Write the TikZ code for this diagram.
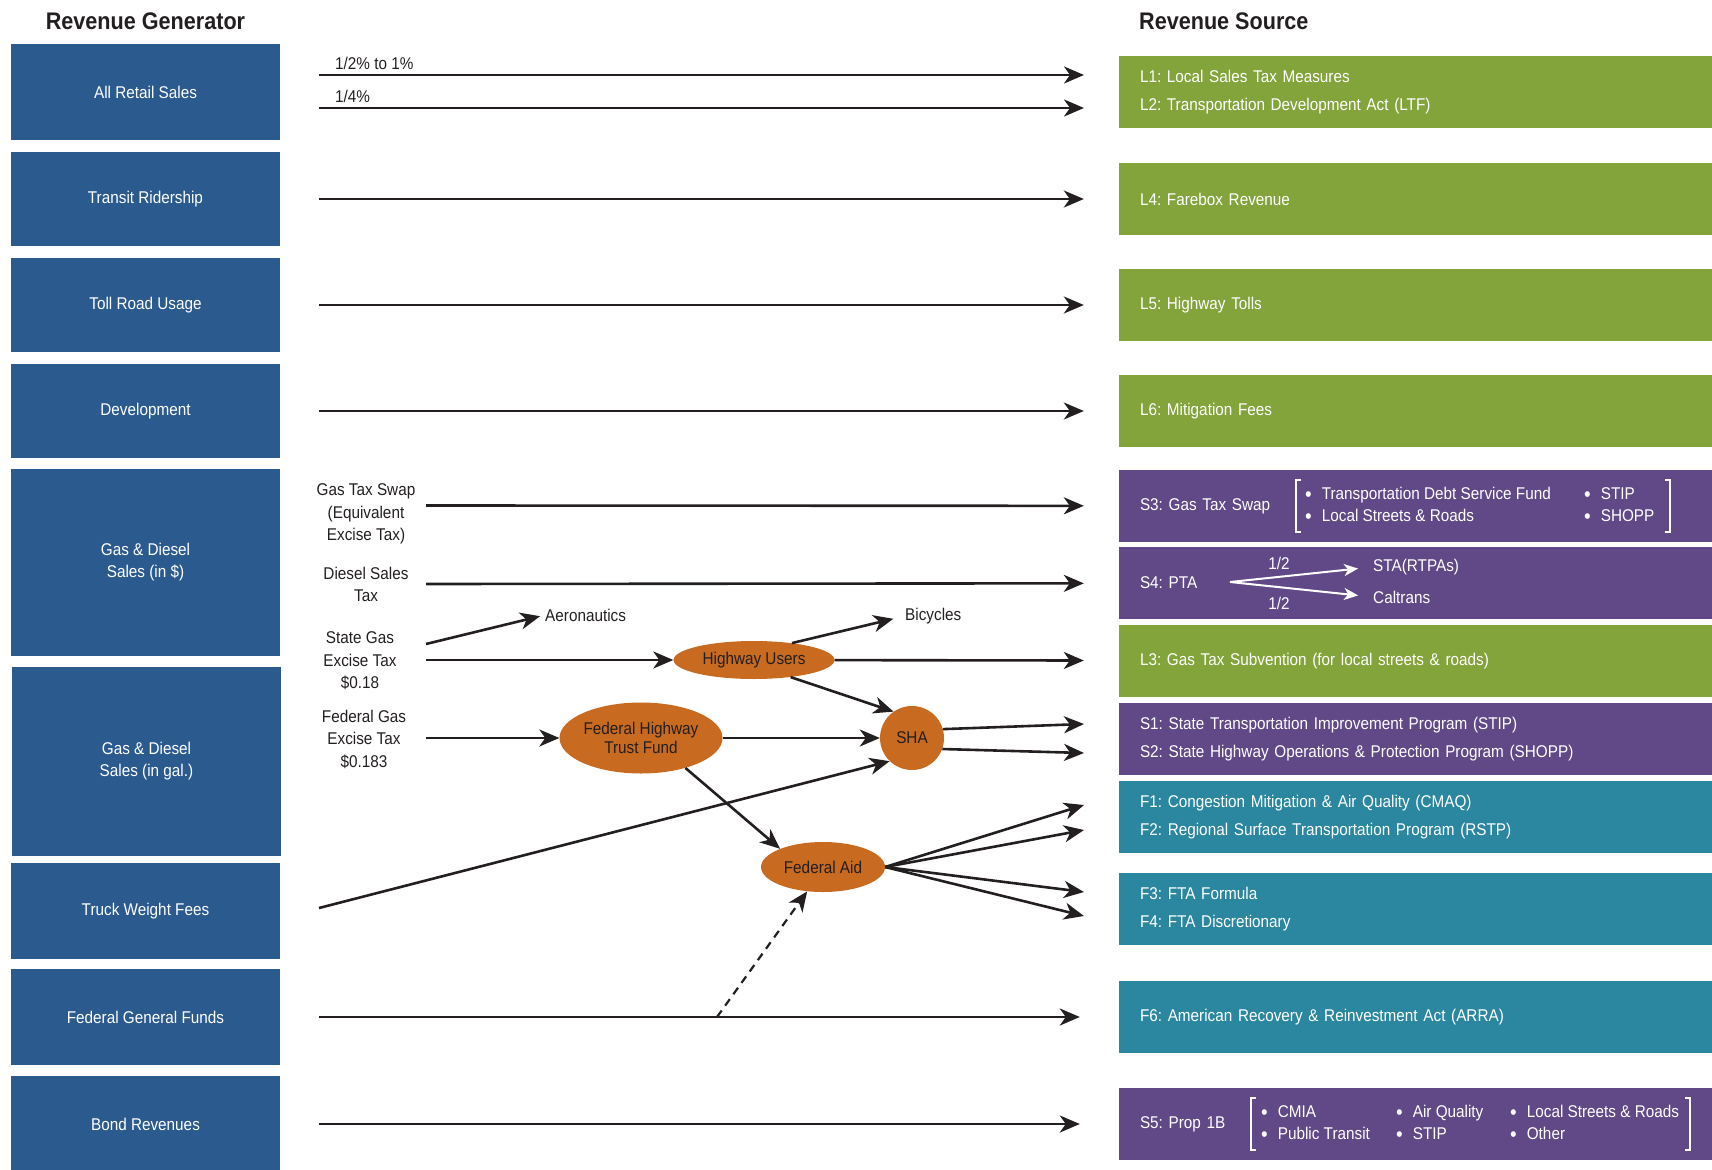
\documentclass[tikz,border=0pt]{standalone}
\usepackage{fontspec}
\setmainfont{Liberation Sans}[FakeStretch=0.9]
\usetikzlibrary{arrows.meta,shapes.geometric}
\definecolor{genblue}{RGB}{43,90,143}
\definecolor{locgreen}{RGB}{131,163,59}
\definecolor{statepurple}{RGB}{97,72,134}
\definecolor{fedteal}{RGB}{42,135,159}
\definecolor{fundorange}{RGB}{200,106,31}
\definecolor{ink}{RGB}{35,31,32}
\newcommand{\bul}{\raisebox{-2.2pt}{\fontsize{21}{22}\selectfont\textbullet}\hspace{10pt}}
\frenchspacing

\begin{document}
\begin{tikzpicture}[x=1pt,y=-1pt,
  gen/.style={fill=genblue,text=white,minimum width=269pt,inner sep=0pt,align=center,font=\fontsize{17}{22}\selectfont},
  src/.style={text=white,minimum height=72pt,inner xsep=21pt,inner ysep=0pt,text width=551pt,align=left,font=\fontsize{17}{28.5}\selectfont},
  fund/.style={ellipse,fill=fundorange,text=ink,inner sep=0pt,align=center,font=\fontsize{17}{19}\selectfont},
  lbl/.style={text=ink,inner sep=0pt,align=center,font=\fontsize{17}{22.5}\selectfont},
  blist/.style={text=white,inner sep=0pt,align=left,font=\fontsize{17}{22}\selectfont},
  head/.style={text=ink,inner sep=0pt,font=\bfseries\fontsize{24}{28}\selectfont},
  flow/.style={draw=ink,line width=2.6pt,-{Stealth[length=20pt,width=17pt,inset=6pt]}},
  split/.style={draw=white,line width=2pt,-{Stealth[length=14pt,width=12pt,inset=4pt]}},
  brace/.style={draw=white,line width=2.6pt}]
  \useasboundingbox (0,0) rectangle (1712,1169);

  \node[head] (genhead) at (145.5,21) {Revenue Generator};
  \node[head,anchor=west] (srchead) at (1139,21) {Revenue Source};

  \node[gen,minimum height=96pt] (retail) at (145.5,92) {All Retail Sales};
  \node[gen,minimum height=94pt] (transit) at (145.5,199) {Transit Ridership};
  \node[gen,minimum height=94pt] (toll) at (145.5,305) {Toll Road Usage};
  \node[gen,minimum height=94pt] (devel) at (145.5,411) {Development};
  \node[gen,minimum height=187pt] (gasdol) at (145.5,562.5) {Gas \& Diesel\\Sales (in \$)};
  \node[gen,minimum height=189pt] (gasgal) at (146.5,761.5) {Gas \& Diesel\\Sales (in gal.)};
  \node[gen,minimum height=96pt] (truck) at (145.5,911) {Truck Weight Fees};
  \node[gen,minimum height=96pt] (fedgen) at (145.5,1017) {Federal General Funds};
  \node[gen,minimum height=96pt] (bond) at (145.5,1124) {Bond Revenues};

  \node[src,fill=locgreen] (l12) at (1415.5,92) {L1: Local Sales Tax Measures\\L2: Transportation Development Act (LTF)};
  \node[src,fill=locgreen] (l4) at (1415.5,199) {L4: Farebox Revenue};
  \node[src,fill=locgreen] (l5) at (1415.5,305) {L5: Highway Tolls};
  \node[src,fill=locgreen] (l6) at (1415.5,411) {L6: Mitigation Fees};
  \node[src,fill=statepurple] (s3) at (1415.5,506) {S3: Gas Tax Swap};
  \node[src,fill=statepurple] (s4) at (1415.5,583) {S4: PTA};
  \node[src,fill=locgreen] (l3) at (1415.5,661) {L3: Gas Tax Subvention (for local streets \& roads)};
  \node[src,fill=statepurple] (s12) at (1415.5,739) {S1: State Transportation Improvement Program (STIP)\\S2: State Highway Operations \& Protection Program (SHOPP)};
  \node[src,fill=fedteal] (f12) at (1415.5,817) {F1: Congestion Mitigation \& Air Quality (CMAQ)\\F2: Regional Surface Transportation Program (RSTP)};
  \node[src,fill=fedteal] (f34) at (1415.5,909) {F3: FTA Formula\\F4: FTA Discretionary};
  \node[src,fill=fedteal] (f6) at (1415.5,1017) {F6: American Recovery \& Reinvestment Act (ARRA)};
  \node[src,fill=statepurple] (s5) at (1415.5,1124) {S5: Prop 1B};

  % bracketed lists
  \draw[brace] (1301,480) -| (1296,532) -- (1301,532);
  \draw[brace] (1665,480) -| (1670,532) -- (1665,532);
  \node[blist,anchor=west] (s3a) at (1305,505.5) {\bul Transportation Debt Service Fund\\\bul Local Streets \& Roads};
  \node[blist,anchor=west] (s3b) at (1584,505.5) {\bul STIP\\\bul SHOPP};
  \draw[brace] (1256,1098) -| (1251,1150) -- (1256,1150);
  \draw[brace] (1685,1098) -| (1690,1150) -- (1685,1150);
  \node[blist,anchor=west] (s5a) at (1261,1123.5) {\bul CMIA\\\bul Public Transit};
  \node[blist,anchor=west] (s5b) at (1396,1123.5) {\bul Air Quality\\\bul STIP};
  \node[blist,anchor=west] (s5c) at (1510,1123.5) {\bul Local Streets \& Roads\\\bul Other};

  % PTA split
  \coordinate (apex) at (1230,582);
  \node[blist,anchor=west] (sta) at (1373,567) {STA(RTPAs)};
  \node[blist,anchor=west] (caltrans) at (1373,597) {Caltrans};
  \node[blist] (half1) at (1279,563) {1/2};
  \node[blist] (half2) at (1279,603) {1/2};
  \draw[split,shorten >=15pt] (apex) -- (sta.west);
  \draw[split,shorten >=15pt] (apex) -- (caltrans.west);

  \node[lbl,anchor=west] (pctlbl) at (335,63) {1/2\% to 1\%};
  \node[lbl,anchor=west] (quartlbl) at (335,96) {1/4\%};
  \node[lbl] (swaplbl) at (366,514) {Gas Tax Swap\\(Equivalent\\Excise Tax)};
  \node[lbl] (diesellbl) at (366,584.5) {Diesel Sales\\Tax};
  \node[lbl] (statelbl) at (360,661) {State Gas\\Excise Tax\\\$0.18};
  \node[lbl] (fedlbl) at (364,739) {Federal Gas\\Excise Tax\\\$0.183};
  \node[lbl,anchor=west] (aero) at (545,615) {Aeronautics};
  \node[lbl,anchor=west] (bike) at (905,616) {Bicycles};

  \node[fund,minimum width=161pt,minimum height=38pt] (hwy) at (754,660) {Highway Users};
  \node[fund,minimum width=163pt,minimum height=71pt] (fhtf) at (641,738) {Federal Highway\\Trust Fund};
  \node[fund,circle,minimum size=64pt] (sha) at (912,738) {SHA};
  \node[fund,minimum width=124pt,minimum height=50pt] (fedaid) at (823,867) {Federal Aid};

  \coordinate (r1) at (319,75);
  \coordinate (r2) at (319,108);
  \coordinate (l1in) at (1084,75);
  \coordinate (l2in) at (1084,108);
  \coordinate (swapst) at (426,505.5);
  \coordinate (dslst) at (426,584);
  \coordinate (aerost) at (426,644);
  \coordinate (sgst) at (426,660);
  \coordinate (fgst) at (426,738);
  \coordinate (tw) at (319,908);
  \coordinate (s1in) at (1084,724);
  \coordinate (s2in) at (1084,753);
  \coordinate (f1in) at (1084,805);
  \coordinate (f2in) at (1084,830);
  \coordinate (f3in) at (1084,892);
  \coordinate (f4in) at (1084,916);
  \coordinate (fork) at (717,1017);

  \draw[flow] (r1) -- (l1in);
  \draw[flow] (r2) -- (l2in);
  \draw[flow,shorten <=39pt,shorten >=35pt] (transit) -- (l4);
  \draw[flow,shorten <=39pt,shorten >=35pt] (toll) -- (l5);
  \draw[flow,shorten <=39pt,shorten >=35pt] (devel) -- (l6);
  \draw[flow,shorten >=35pt] (swapst) -- (s3);
  \draw[flow,shorten >=35pt] (dslst) -- (s4);
  \draw[flow,shorten >=5pt] (aerost) -- (aero.west);
  \draw[flow] (sgst) -- (hwy);
  \draw[flow,shorten >=12pt] (hwy.24) -- (bike.west);
  \draw[flow,shorten >=35pt] (hwy) -- (l3);
  \draw[flow] (hwy.-25) -- (sha.125);
  \draw[flow] (fgst) -- (fhtf);
  \draw[flow] (fhtf) -- (sha);
  \draw[flow] (sha.16) -- (s1in);
  \draw[flow] (sha.-20) -- (s2in);
  \draw[flow] (tw) -- (sha.226);
  \draw[flow] (fhtf.-34) -- (fedaid.157);
  \draw[flow] (fedaid.east) -- (f1in);
  \draw[flow] (fedaid.east) -- (f2in);
  \draw[flow] (fedaid.east) -- (f3in);
  \draw[flow] (fedaid.east) -- (f4in);
  \draw[flow,shorten <=39pt,shorten >=39pt] (fedgen) -- (f6);
  \draw[flow,line width=2.2pt,dash pattern=on 8pt off 6pt] (fork) -- (fedaid.237);
  \draw[flow,shorten <=39pt,shorten >=39pt] (bond) -- (s5);
\end{tikzpicture}
\end{document}
